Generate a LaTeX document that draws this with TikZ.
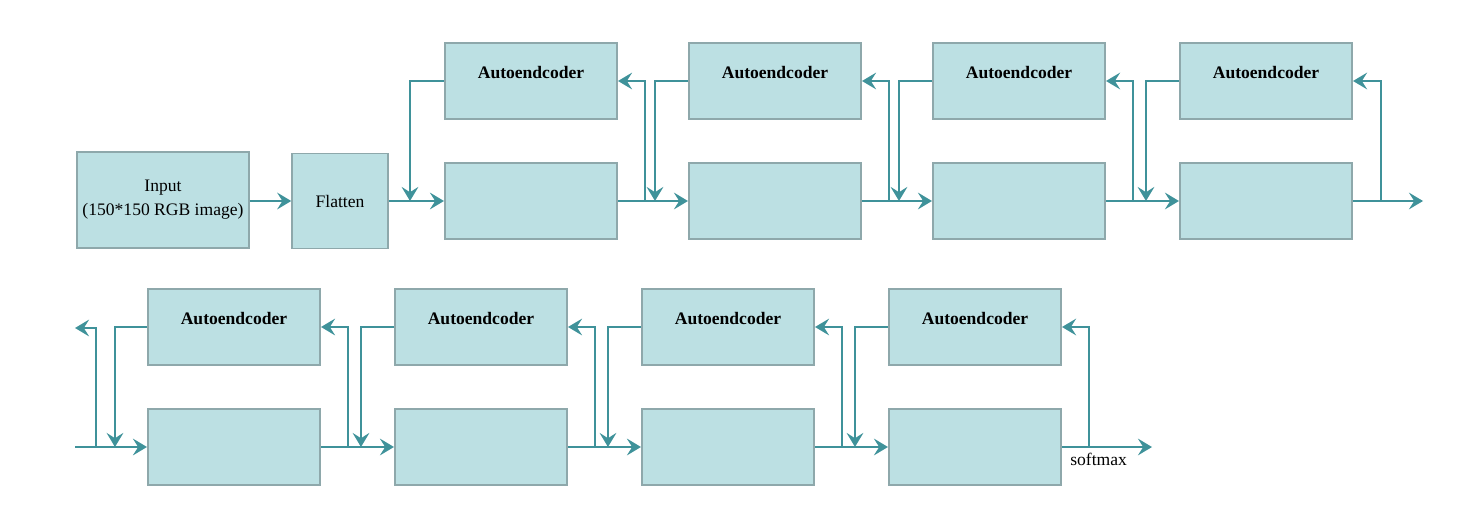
\documentclass[tikz,border=0pt]{standalone}
\usepackage{fontspec}
\setmainfont{Liberation Serif}
\usetikzlibrary{arrows.meta}

\definecolor{boxfill}{HTML}{BCE0E3}
\definecolor{boxline}{HTML}{8EA8AB}
\definecolor{flowline}{HTML}{3F929A}

\begin{document}
\begin{tikzpicture}[x=0.02cm, y=-0.02cm, font=\fontsize{10}{13.7}\selectfont,
        box/.style={draw=boxline, fill=boxfill, line width=0.9pt, inner sep=0pt, minimum width=3.45cm, minimum height=1.52cm, align=center},
        ae/.style={box, label={[font=\bfseries, anchor=center, yshift=-0.6cm]north:Autoendcoder}},
        flow/.style={draw=flowline, line width=1.6pt, -{Stealth[length=8pt, width=9.5pt, inset=3pt]}}]

        \useasboundingbox (0, 0) rectangle (1479, 527);

        \node[box, minimum width=3.44cm, minimum height=1.92cm] (in) at (163, 200) {Input\\(150*150 RGB image)};
        \node[box, minimum width=1.92cm, minimum height=1.9cm] (fl) at (340, 201) {Flatten};

        % upper row
        \foreach \i/\x in {1/531, 2/775, 3/1019, 4/1266} {
            \node[ae] (ae\i) at (\x, 81) {};
            \node[box] (hid\i) at (\x, 201) {};
        }

        % lower row
        \foreach \i/\x in {5/234, 6/481, 7/728, 8/975} {
            \node[ae] (ae\i) at (\x, 327) {};
            \node[box] (hid\i) at (\x, 447) {};
        }

        \coordinate (outA) at (1423, 201);
        \coordinate (inB) at (75, 447);
        \coordinate (outB) at (75, 328);
        \coordinate (outC) at (1152, 447);

        \draw[flow] (in.east |- fl.west) -- (fl);
        \draw[flow] (fl) -- (hid1);
        \draw[flow] (ae1.west) -| ([xshift=-0.68cm]hid1.west);

        \draw[flow] (inB) -- (hid5);
        \draw[flow] (inB) ++(21, 0) |- (outB);
        \draw[flow] (ae5.west) -| ([xshift=-0.64cm]hid5.west);

        \foreach \i/\j in {1/2, 2/3, 3/4, 5/6, 6/7, 7/8} {
            \draw[flow] (hid\i) -- (hid\j);
            \draw[flow] (hid\i.east) ++(27, 0) |- (ae\i.east);
            \draw[flow] (ae\j.west) -| ([xshift=-0.66cm]hid\j.west);
        }

        \draw[flow] (hid4) -- (outA);
        \draw[flow] (hid4.east) ++(28, 0) |- (ae4.east);

        \draw[flow] (hid8) -- (outC);
        \draw[flow] (hid8.east) ++(27, 0) |- (ae8.east);
        \node[anchor=north west, inner sep=0pt] (sm) at (1070, 453) {softmax};
\end{tikzpicture}
\end{document}
